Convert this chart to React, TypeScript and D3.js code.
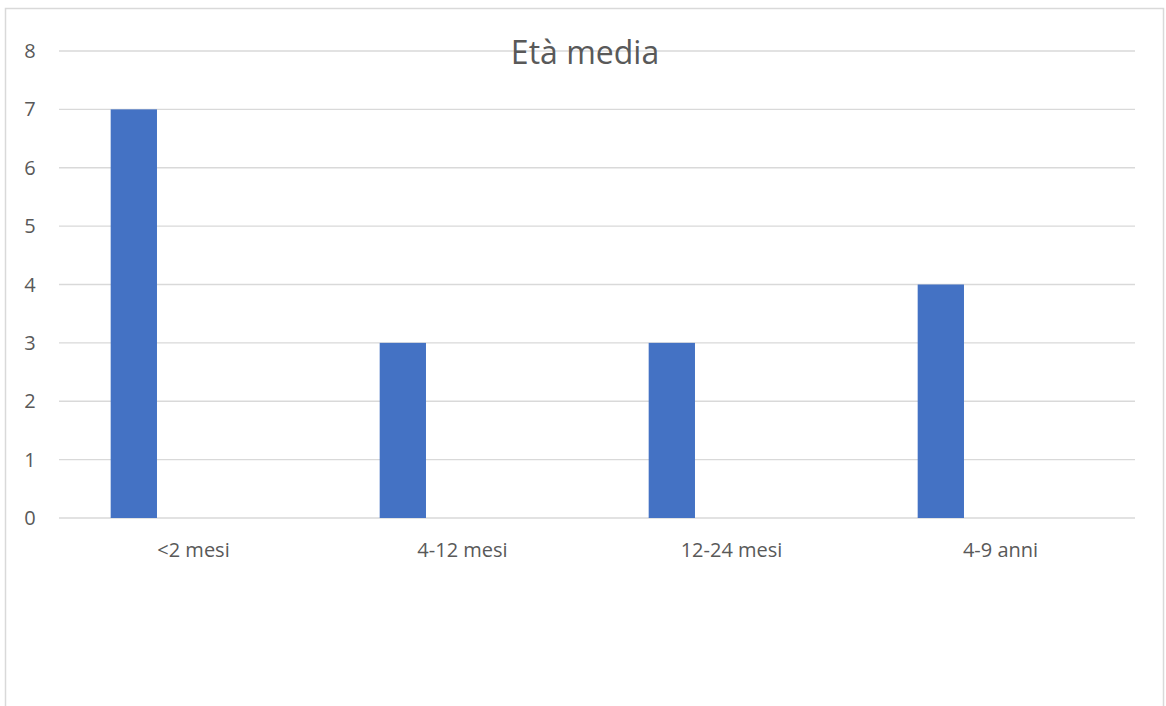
import React from "react";
import * as d3 from "d3";

const categories: string[] = ["<2 mesi", "4-12 mesi", "12-24 mesi", "4-9 anni"];
const seriesNames: string[] = ["Serie 1", "Serie 2"];
const serie1: (number | null)[] = [7, 3, 3, 4];
const serie2: (number | null)[] = [null, null, null, null];
const yTicks: number[] = [0, 1, 2, 3, 4, 5, 6, 7, 8];
const title = "Età media";

const W = 1166;
const H = 706;
const FONT = "'Open Sans', 'Noto Sans', sans-serif";
const TEXT = "#595959";
const GRID = "#d9d9d9";
const BAR = "#4472C4";

export default function App() {
  const plotLeft = 59;
  const plotRight = 1135;
  const plotTop = 51;
  const plotBottom = 518;

  const x0 = d3.scaleBand<string>().domain(categories).range([plotLeft, plotRight]).padding(0);
  const x1 = d3
    .scaleBand<string>()
    .domain(seriesNames)
    .range([0, x0.bandwidth()])
    .paddingInner(0.612)
    .paddingOuter(0.433);
  const y = d3.scaleLinear().domain([0, 8]).range([plotBottom, plotTop]);

  const allSeries = [serie1, serie2];

  return (
    <svg
      width={W}
      height={H}
      style={{ position: "absolute", left: 0, top: 0, background: "#fff" }}
      fontFamily={FONT}
    >
      <rect x={5.5} y={8.5} width={1158} height={740} fill="#fff" stroke={GRID} strokeWidth={1.5} />
      {yTicks.map((t) => (
        <g key={t}>
          <line x1={plotLeft} x2={plotRight} y1={y(t)} y2={y(t)} stroke={GRID} strokeWidth={1.4} />
          <text x={30} y={y(t)} dy="0.35em" textAnchor="middle" fontSize={20} fill={TEXT}>
            {t}
          </text>
        </g>
      ))}
      <text x={585} y={64} textAnchor="middle" fontSize={32} fill={TEXT}>
        {title}
      </text>
      {allSeries.map((vals, si) =>
        vals.map((v, ci) =>
          v == null ? null : (
            <rect
              key={`${si}-${ci}`}
              x={(x0(categories[ci]) as number) + (x1(seriesNames[si]) as number)}
              y={y(v)}
              width={x1.bandwidth()}
              height={y(0) - y(v)}
              fill={BAR}
            />
          )
        )
      )}
      {categories.map((c) => (
        <text
          key={c}
          x={(x0(c) as number) + x0.bandwidth() / 2}
          y={557}
          textAnchor="middle"
          fontSize={20}
          fill={TEXT}
        >
          {c}
        </text>
      ))}
    </svg>
  );
}
